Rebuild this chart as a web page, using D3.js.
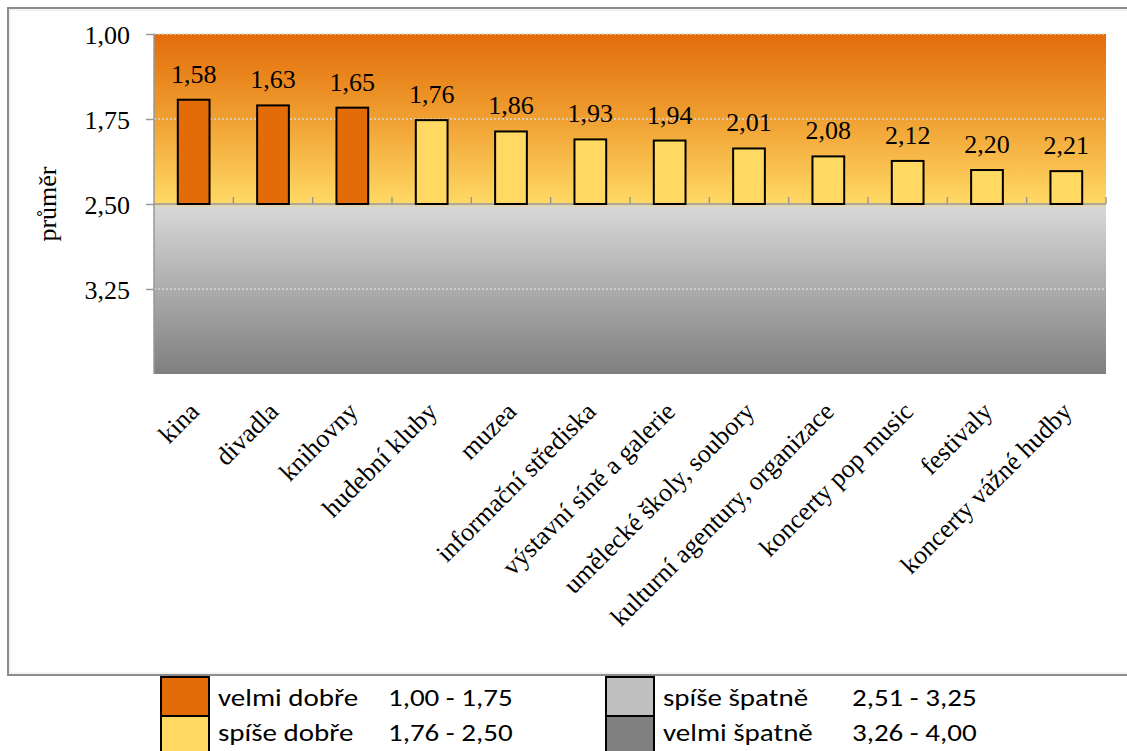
<!DOCTYPE html>
<html>
<head>
<meta charset="utf-8">
<script src="https://cdn.jsdelivr.net/npm/d3@7"></script>
<style>
  html, body { margin: 0; padding: 0; background: #fff; }
  svg { display: block; }
</style>
</head>
<body>
<svg id="chart" width="1127" height="751"></svg>
<script>
// ---- data ----
const categories = ["kina", "divadla", "knihovny", "hudební kluby", "muzea",
  "informační střediska", "výstavní síně a galerie", "umělecké školy, soubory",
  "kulturní agentury, organizace", "koncerty pop music", "festivaly", "koncerty vážné hudby"];
const values = [1.58, 1.63, 1.65, 1.76, 1.86, 1.93, 1.94, 2.01, 2.08, 2.12, 2.20, 2.21];
const yTicks = [1.00, 1.75, 2.50, 3.25];
const yTitle = "průměr";
const legendLabels = ["velmi dobře", "spíše dobře", "spíše špatně", "velmi špatně"];
const legendRanges = ["1,00 - 1,75", "1,76 - 2,50", "2,51 - 3,25", "3,26 - 4,00"];
const legendColors = ["#E36C09", "#FFD961", "#C0C0C0", "#808080"];

// ---- layout ----
const W = 1127, H = 751;
const plot = { left: 154, right: 1106, top: 34, bottom: 374 };
const svg = d3.select("#chart");
const locale = d3.formatLocale({ decimal: ",", thousands: " ", grouping: [3], currency: ["", ""] });
const fmt = locale.format(".2f");
const serif = "'Liberation Serif','Times New Roman',serif";
const sans = "Carlito, Calibri, Lato, sans-serif";

const y = d3.scaleLinear().domain([1, 4]).range([plot.top, plot.bottom]);
const x = d3.scaleBand().domain(categories).range([plot.left, plot.right])
  .paddingInner(0.6).paddingOuter(0.3);
const step = x.step();
const halfGap = (step - x.bandwidth()) / 2;

// frame
svg.append("rect").attr("x", 8).attr("y", 8).attr("width", 1140).attr("height", 667)
  .attr("fill", "#fff").attr("stroke", "#8C8C8C").attr("stroke-width", 2);
svg.append("rect").attr("x", 10).attr("y", 10).attr("width", 1140).attr("height", 663)
  .attr("fill", "none").attr("stroke", "#E8E8E8").attr("stroke-width", 1);

// gradients
const defs = svg.append("defs");
const g1 = defs.append("linearGradient").attr("id", "gTop")
  .attr("gradientUnits", "userSpaceOnUse")
  .attr("x1", 0).attr("x2", 0).attr("y1", y(1)).attr("y2", y(2.5));
g1.append("stop").attr("offset", 0).attr("stop-color", "#E36C0A");
g1.append("stop").attr("offset", 0.5).attr("stop-color", "#F0A032");
g1.append("stop").attr("offset", 1).attr("stop-color", "#FFD965");
const g2 = defs.append("linearGradient").attr("id", "gBot")
  .attr("gradientUnits", "userSpaceOnUse")
  .attr("x1", 0).attr("x2", 0).attr("y1", y(2.5)).attr("y2", y(4));
g2.append("stop").attr("offset", 0).attr("stop-color", "#D9D9D9");
g2.append("stop").attr("offset", 1).attr("stop-color", "#7F7F7F");

svg.append("rect").attr("x", plot.left).attr("y", y(1))
  .attr("width", plot.right - plot.left).attr("height", y(2.5) - y(1))
  .attr("fill", "url(#gTop)");
svg.append("rect").attr("x", plot.left).attr("y", y(2.5))
  .attr("width", plot.right - plot.left).attr("height", y(4) - y(2.5))
  .attr("fill", "url(#gBot)");
svg.append("line").attr("x1", plot.left).attr("x2", plot.right)
  .attr("y1", y(2.5) + 2).attr("y2", y(2.5) + 2)
  .attr("stroke", "#E6D6A6").attr("stroke-width", 1.5);

// gridlines (dotted)
svg.append("g").selectAll("line").data(yTicks.filter(d => d !== 2.5)).join("line")
  .attr("x1", plot.left).attr("x2", plot.right)
  .attr("y1", d => y(d)).attr("y2", d => y(d))
  .attr("stroke", "#D8D8D8").attr("stroke-width", 1.5)
  .attr("stroke-dasharray", "2,2");

// y axis
const yAxis = d3.axisLeft(y).tickValues(yTicks).tickFormat(fmt).tickSize(8).tickPadding(16);
const ya = svg.append("g").attr("transform", `translate(${plot.left},0)`).call(yAxis);
ya.select(".domain").attr("stroke", "#999").attr("stroke-width", 1.5)
  .attr("d", `M0,${y(1)}V${y(4)}`);
ya.selectAll(".tick line").attr("stroke", "#999").attr("stroke-width", 1.5);
ya.selectAll(".tick text").attr("font-family", serif)
  .attr("font-size", 26).attr("fill", "#000").attr("dy", "0.35em");

// x axis at 2.50
const xa = svg.append("g").attr("transform", `translate(0,${y(2.5)})`);
xa.append("line").attr("x1", plot.left).attr("x2", plot.right)
  .attr("y1", 0).attr("y2", 0).attr("stroke", "#999").attr("stroke-width", 1.5);
xa.selectAll("line.tk").data(categories).join("line").attr("class", "tk")
  .attr("x1", d => x(d) - halfGap + step)
  .attr("x2", d => x(d) - halfGap + step)
  .attr("y1", 0).attr("y2", -7).attr("stroke", "#999").attr("stroke-width", 1.5);

// bars
svg.append("g").selectAll("rect").data(values).join("rect")
  .attr("x", (d, i) => x(categories[i]))
  .attr("width", x.bandwidth())
  .attr("y", d => y(d))
  .attr("height", d => y(2.5) - y(d))
  .attr("fill", d => d <= 1.75 ? legendColors[0] : legendColors[1])
  .attr("stroke", "#000").attr("stroke-width", 2);

// value labels
svg.append("g").selectAll("text").data(values).join("text")
  .attr("x", (d, i) => x(categories[i]) + x.bandwidth() / 2)
  .attr("y", d => y(d) - 17)
  .attr("text-anchor", "middle")
  .attr("font-family", serif)
  .attr("font-size", 26).attr("fill", "#000")
  .text(d => fmt(d));

// category labels
svg.append("g").selectAll("text").data(categories).join("text")
  .attr("transform", d => `translate(${x(d) + x.bandwidth() / 2 + 7},${413}) rotate(-45)`)
  .attr("text-anchor", "end")
  .attr("font-family", serif)
  .attr("font-size", 26).attr("fill", "#000")
  .text(d => d);

// y title
svg.append("text").attr("transform", `translate(56,${y(2.5)}) rotate(-90)`)
  .attr("text-anchor", "middle")
  .attr("font-family", serif)
  .attr("font-size", 26).attr("fill", "#000").text(yTitle);

// legend
const lgX = [161, 606], lgTextX = [218, 663], lgRangeX = [388, 852];
const lgRowY = [677, 716], lgBase = [706, 741];
const lg = svg.append("g");
legendLabels.forEach((lab, i) => {
  const col = Math.floor(i / 2), row = i % 2;
  lg.append("rect").attr("x", lgX[col]).attr("y", lgRowY[row])
    .attr("width", 48).attr("height", 39)
    .attr("fill", legendColors[i]).attr("stroke", "#000").attr("stroke-width", 2);
  lg.append("text").attr("transform", `translate(${lgTextX[col]},${lgBase[row]}) scale(1.16,1)`)
    .attr("font-family", sans).attr("font-size", 25)
    .attr("fill", "#000").text(lab);
  lg.append("text").attr("transform", `translate(${lgRangeX[col]},${lgBase[row]}) scale(1.16,1)`)
    .attr("font-family", sans).attr("font-size", 25)
    .attr("fill", "#000").text(legendRanges[i]);
});
</script>
</body>
</html>
